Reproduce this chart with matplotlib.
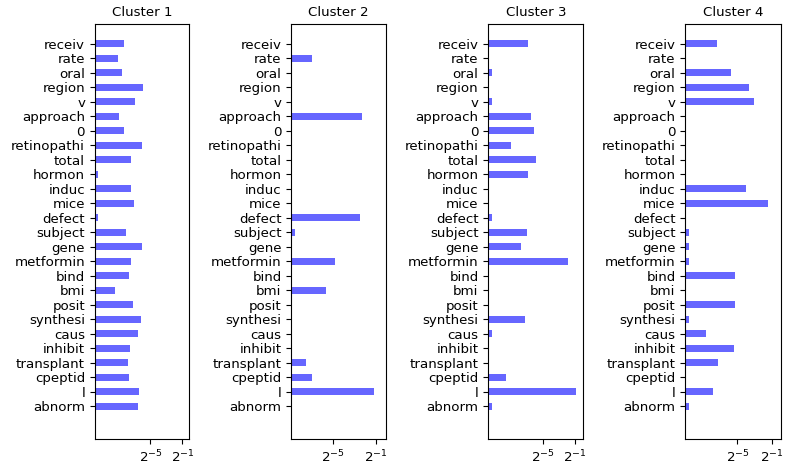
import numpy as np
import matplotlib
matplotlib.use('Agg')
import matplotlib.pyplot as plt

terms = ['receiv', 'rate', 'oral', 'region', 'v', 'approach', '0', 'retinopathi',
         'total', 'hormon', 'induc', 'mice', 'defect', 'subject', 'gene', 'metformin',
         'bind', 'bmi', 'posit', 'synthesi', 'caus', 'inhibit', 'transplant',
         'cpeptid', 'l', 'abnorm']

cluster1 = [0.0032, 0.0019, 0.0027, 0.0166, 0.0083, 0.0021, 0.0032, 0.0152,
            0.0059, 0.00033, 0.0059, 0.0076, 0.00033, 0.0038, 0.0152, 0.0059,
            0.0049, 0.0015, 0.0070, 0.0140, 0.0107, 0.0054, 0.0045, 0.0049,
            0.0118, 0.0107]
cluster2 = [0, 0.0083, 0, 0, 0, 0.2045, 0, 0,
            0, 0, 0, 0, 0.1805, 0.0028, 0, 0.0362,
            0, 0.0203, 0, 0, 0, 0, 0.0056, 0.0083,
            0.4415, 0]
cluster3 = [0.0082, 0, 0.00035, 0, 0.00035, 0.0107, 0.0139, 0.00185,
            0.0165, 0.0082, 0, 0, 0.00035, 0.0075, 0.0044, 0.2717,
            0, 0, 0, 0.0063, 0.00035, 0, 0, 0.0012,
            0.547, 0.00035]
cluster4 = [0.0062, 0, 0.0188, 0.0797, 0.1191, 0, 0, 0,
            0, 0, 0.0625, 0.3635, 0, 0.00066, 0.00066, 0.00066,
            0.0259, 0, 0.0259, 0.00066, 0.0026, 0.024, 0.0067, 0,
            0.0045, 0.00066]

clusters = [cluster1, cluster2, cluster3, cluster4]
titles = ['Cluster 1', 'Cluster 2', 'Cluster 3', 'Cluster 4']
xlims = [(-11.95, -0.125), (-8.83, -0.08), (-11.94, 0.05), (-11.0, 0.04)]
lefts = [0.1196, 0.3678, 0.6165, 0.8653]
widths = [0.1194, 0.1196, 0.1200, 0.1208]

fig = plt.figure(figsize=(7.92, 4.71), dpi=100)
y = np.arange(len(terms))

for i in range(4):
    ax = fig.add_axes([lefts[i], 0.068, widths[i], 0.880])
    ax.barh(y, clusters[i], height=0.5, color='blue', alpha=0.6)
    ax.set_xscale('log', base=2)
    ax.set_xlim(2 ** xlims[i][0], 2 ** xlims[i][1])
    ax.set_ylim(27.25, -1.33)
    ax.set_yticks(y)
    ax.set_yticklabels(terms, fontsize=9.6)
    ax.set_xticks([2 ** -5, 2 ** -1])
    ax.minorticks_off()
    ax.tick_params(axis='x', labelsize=9.6)
    ax.set_title(titles[i], fontsize=9.6)

fig.savefig('out.png', dpi=100)
